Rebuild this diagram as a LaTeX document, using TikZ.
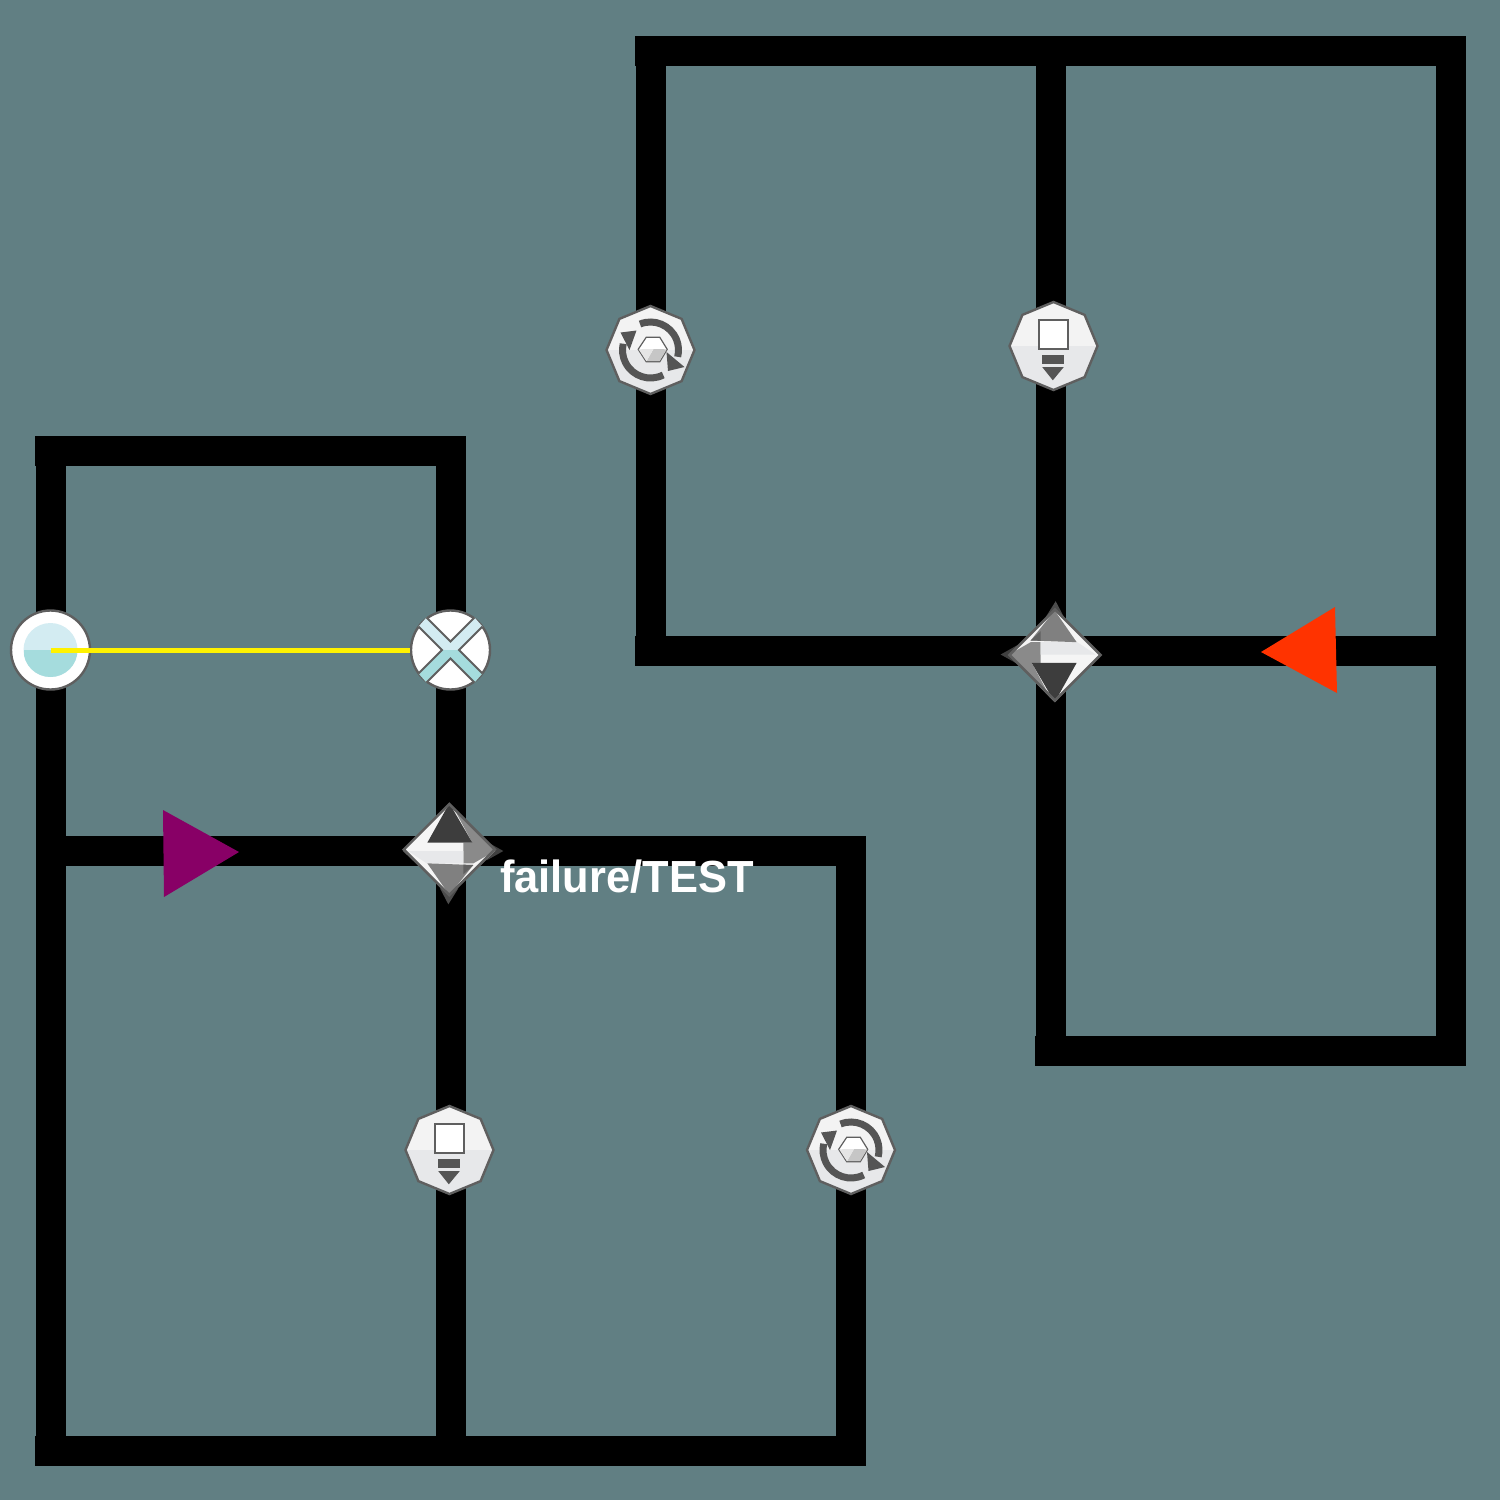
\documentclass[tikz,border=0pt]{standalone}
\usepackage{fontspec}
\usetikzlibrary{shapes.geometric}
\newfontfamily\labelfont[FakeStretch=0.965]{Liberation Sans}
\definecolor{bgc}{HTML}{617F83}
\definecolor{edgegray}{HTML}{5F5F5F}
\definecolor{icongray}{HTML}{555555}
\definecolor{ltop}{HTML}{D3ECF2}
\definecolor{lbot}{HTML}{A5DCDD}
\definecolor{octtop}{HTML}{F3F3F3}
\definecolor{octbot}{HTML}{E7E8EA}
\definecolor{flowred}{HTML}{FF3300}
\definecolor{flowpurple}{HTML}{880066}
\tikzset{
  x=1pt,y=-1pt,
  wire/.style={line width=30pt,draw=black,line cap=butt},
  ringnode/.style={circle,draw=edgegray,line width=2.4pt,fill=white,minimum size=79pt,inner sep=0pt},
  halfdisc/.style={circle,fill=ltop,minimum size=54pt,inner sep=0pt,
    path picture={\fill[lbot] (path picture bounding box.west) rectangle (path picture bounding box.south east);}},
  octnode/.style={regular polygon,regular polygon sides=8,shape border rotate=22.5,draw=edgegray,line width=2.4pt,
    fill=octtop,minimum size=88pt,inner sep=0pt,
    path picture={\fill[octbot] (path picture bounding box.west) rectangle (path picture bounding box.south east);}},
  gwnode/.style={diamond,aspect=1,draw=edgegray,line width=2.6pt,minimum size=92pt,inner sep=0pt},
  flowmark/.style={draw=none},
  pics/crossmark/.style={code={
    \fill[ltop] (-8.5,0)--(-32,-23.5)--(-24,-32.5)--(0,-8.5)--(24,-32.5)--(32,-23.5)--(8.5,0)--cycle;
    \fill[lbot] (-8.5,0)--(-32,23.5)--(-24,32.5)--(0,8.5)--(24,32.5)--(32,23.5)--(8.5,0)--cycle;
    \draw[edgegray,line width=2pt]
      (-24,-32.5)--(0,-8.5)--(24,-32.5)
      (-32,-23.5)--(-8.5,0)--(-32,23.5)
      (32,-23.5)--(8.5,0)--(32,23.5)
      (-24,32.5)--(0,8.5)--(24,32.5);
  }},
  pics/taskmark/.style={code={
    \draw[edgegray,fill=white,line width=2pt] (-15,-25.7) rectangle (14.3,3.3);
    \fill[icongray] (-11.3,9.3) rectangle (10.3,17.7);
    \fill[icongray] (-11.3,21)--(10.3,21)--(-0.7,34.3)--cycle;
  }},
  pics/loopmark/.style={code={
    \draw[icongray,line width=7pt] ({28*cos(-112)},{28*sin(-112)}) arc[start angle=-112,end angle=14,radius=28];
    \fill[icongray] (16,2)--(34,17)--(17.5,21)--cycle;
    \draw[icongray,line width=7pt] ({28*cos(63)},{28*sin(63)}) arc[start angle=63,end angle=193,radius=28];
    \fill[icongray] (-30,-17.5)--(-14,-19.5)--(-21,0)--cycle;
    \draw[edgegray,fill=white,line width=1.2pt] (-12.3,-0.7)--(-4.3,-12.7)--(9.3,-12.7)--(16.7,-0.7)--(9.3,11.7)--(-4.3,11.7)--cycle;
    \fill[gray!45] (3,-1)--(16.2,-0.7)--(9,11.2)--(-4,11.2)--cycle;
    \fill[gray!20] (3,-1)--(-4,11.2)--(-11.8,-0.7)--cycle;
  }},
  pics/gwmark/.style={code={
    \begin{scope}[shift={(-58,-58.5)},scale=0.33333]
      \fill[black!75] (275,140)--(325,168)--(275,196)--cycle;
      \fill[black!70] (135,280)--(160,328)--(190,280)--cycle;
      \fill[white!96!black] (163,25)--(300,168)--(163,300)--(25,168)--cycle;
      \fill[black!46] (205,143)--(232,143)--(175,37)--(300,168)--(235,205)--(205,205)--cycle;
      \fill[octbot] (40,168)--(205,168)--(205,205)--(95,205)--cycle;
      \fill[black!76] (163,25)--(97,143)--(232,143)--cycle;
      \fill[black!50] (97,205)--(235,210)--(163,300)--cycle;
      \fill[black!62] (205,209)--(235,210)--(205,238)--cycle;
    \end{scope}
  }},
}
\begin{document}
\begin{tikzpicture}
\fill[bgc] (0,0) rectangle (1500,1500);
\useasboundingbox (0,0) rectangle (1500,1500);
% wire ends
\coordinate (rt1) at (635,51);   \coordinate (rt2) at (1466,51);
\coordinate (rl1) at (651,51);   \coordinate (rl2) at (651,651);
\coordinate (rr1) at (1451,36);  \coordinate (rr2) at (1451,1066);
\coordinate (rm1) at (1051,51);  \coordinate (rm2) at (1051,1051);
\coordinate (rh1) at (635,651);  \coordinate (rh2) at (1451,651);
\coordinate (rb1) at (1035,1051);\coordinate (rb2) at (1466,1051);
\coordinate (lt1) at (35,451);   \coordinate (lt2) at (466,451);
\coordinate (ll1) at (51,451);   \coordinate (ll2) at (51,1451);
\coordinate (lm1) at (451,451);  \coordinate (lm2) at (451,1451);
\coordinate (lh1) at (51,851);   \coordinate (lh2) at (866,851);
\coordinate (lr1) at (851,851);  \coordinate (lr2) at (851,1451);
\coordinate (lb1) at (35,1451);  \coordinate (lb2) at (866,1451);
\foreach \a/\b in {rt1/rt2,rl1/rl2,rr1/rr2,rm1/rm2,rh1/rh2,rb1/rb2,lt1/lt2,ll1/ll2,lm1/lm2,lh1/lh2,lr1/lr2,lb1/lb2}
  \draw[wire] (\a)--(\b);
% flow markers
\node[flowmark] (mkred) at (1300,650) {};
\node[flowmark] (mkpurple) at (200,853) {};
\fill[flowred] (1261,652)--(1335,607)--(1337,693)--cycle;
\fill[flowpurple] (163,810)--(239,852)--(164,897)--cycle;
% start event
\node[ringnode] (startev) at (50.5,650) {};
\node[halfdisc] (startin) at (startev.center) {};
% exclusive gateway
\node[ringnode] (xgate) at (450.5,650) {};
\pic at (xgate.center) {crossmark};
\draw[yellow,line width=5pt] (startev.center)--(xgate.west);
% diamonds
\pic at (453,853.5) {gwmark};
\node[gwnode] (gwa) at (449.3,849.5) {};
\pic[rotate=180] at (1051,652) {gwmark};
\node[gwnode] (gwb) at (1055,655) {};
% octagons
\node[octnode] (loopa) at (650.5,350) {};
\pic at (loopa.center) {loopmark};
\node[octnode] (taska) at (1053.5,346) {};
\pic at (taska.center) {taskmark};
\node[octnode] (taskb) at (449.5,1150) {};
\pic at (taskb.center) {taskmark};
\node[octnode] (loopb) at (851,1150) {};
\pic at (loopb.center) {loopmark};
% label
\node[anchor=base west,inner sep=0pt,text=white,font=\labelfont\bfseries\fontsize{45}{50}\selectfont] (lbl) at (500,892) {failure/TEST};
\end{tikzpicture}
\end{document}
